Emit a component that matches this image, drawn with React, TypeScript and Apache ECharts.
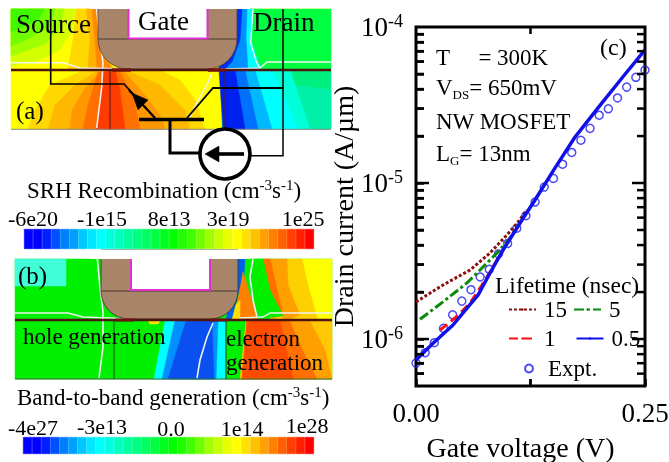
import React, { useEffect, useRef } from "react";
import * as echarts from "echarts";

const FONT = "'Liberation Serif', serif";

// --- chart (c) data ---
const gateVoltageExpt = [0, 0.01, 0.02, 0.03, 0.04, 0.05, 0.06, 0.07, 0.08, 0.09, 0.1, 0.11, 0.12, 0.13, 0.14, 0.15, 0.16, 0.17, 0.18, 0.19, 0.2, 0.21, 0.22, 0.23, 0.24, 0.25];
const currentExpt = [7.01e-7, 8.17e-7, 9.47e-7, 1.17e-6, 1.43e-6, 1.75e-6, 2.07e-6, 2.5e-6, 2.8e-6, 3.51e-6, 4.1e-6, 5.13e-6, 6.17e-6, 7.55e-6, 9.42e-6, 1.07e-5, 1.32e-5, 1.57e-5, 1.88e-5, 2.24e-5, 2.72e-5, 2.99e-5, 3.51e-5, 4.12e-5, 4.76e-5, 5.3e-5];
const gateV05 = [0, 0.0186, 0.0404, 0.0557, 0.0677, 0.0808, 0.095, 0.1157, 0.1299, 0.1518, 0.1736, 0.1987, 0.2249, 0.25];
const current05 = [7.33e-7, 9.4e-7, 1.23e-6, 1.58e-6, 1.91e-6, 2.65e-6, 3.72e-6, 5.79e-6, 7.78e-6, 1.25e-5, 1.97e-5, 3.03e-5, 4.71e-5, 7.13e-5];
const gateV15 = [0, 0.0295, 0.059, 0.0808, 0.0993, 0.1114, 0.1212];
const current15 = [1.73e-6, 2.22e-6, 2.77e-6, 3.56e-6, 4.65e-6, 5.62e-6, 6.71e-6];
const gateV5 = [0.0044, 0.0295, 0.0557, 0.0699, 0.0884, 0.1026, 0.1114];
const current5 = [1.34e-6, 1.73e-6, 2.29e-6, 2.77e-6, 3.56e-6, 4.44e-6, 5.38e-6];
const gateV1 = [0.0262, 0.0448, 0.059, 0.0721, 0.0808, 0.095];
const current1 = [1.14e-6, 1.4e-6, 1.7e-6, 2.22e-6, 2.69e-6, 3.72e-6];
const yMajor = [1e-6, 1e-5];
const yLabelValues = [1e-6, 1e-5, 1e-4];
const yMinor = [6e-7, 7e-7, 8e-7, 9e-7, 2e-6, 3e-6, 4e-6, 5e-6, 6e-6, 7e-6, 8e-6, 9e-6, 2e-5, 3e-5, 4e-5, 5e-5, 6e-5, 7e-5, 8e-5, 9e-5];
const xMidTick = [0.125];
const xLabelValues = [0, 0.25];

// --- colour bars ---
const colourBar = ["#0000ff", "#0000ff", "#0020ff", "#0050ff", "#0080ff", "#00a0ff", "#00c8ff", "#00e8ff", "#00ffff", "#00ffe0", "#00ffc0", "#00ffa0", "#00ff80", "#00ff60", "#00ff40", "#00ff20", "#00ff00", "#20ff00", "#40ff00", "#70ff00", "#a0ff00", "#c8ff00", "#e8ff00", "#ffff00", "#ffe000", "#ffc000", "#ffa000", "#ff8000", "#ff6000", "#ff4000", "#ff2000", "#ff0000"];
const srhLabels = ["-6e20", "-1e15", "8e13", "3e19", "1e25"];
const btbLabels = ["-4e27", "-3e13", "0.0", "1e14", "1e28"];

type Pts = number[][];
const poly = (points: Pts, fill: string) => ({ type: "polygon", silent: true, shape: { points }, style: { fill, stroke: fill, lineWidth: 0.5 } });
const pline = (points: Pts, stroke: string, lineWidth: number) => ({ type: "polyline", silent: true, shape: { points }, style: { stroke, lineWidth, fill: "none" } });
const txt = (text: string, x: number, y: number, fontSize: number, align = "left", rich?: any) => ({
  type: "text", silent: true, x, y,
  style: { text, x: 0, y: 0, fill: "#000", fontFamily: FONT, fontSize, align, verticalAlign: "middle", rich },
});
const supRich = (fs: number, small: number) => ({
  sup: { fontFamily: FONT, fontSize: small, fill: "#000", padding: [0, 0, fs * 0.45, 0] },
  sub: { fontFamily: FONT, fontSize: small, fill: "#000", padding: [fs * 0.5, 0, 0, 0] },
});

const regionsA: [string, Pts][] = [
  ["#ffff00", [[11, 9], [331, 9], [331, 129], [11, 129]]],
  ["#d4ff00", [[11, 9], [75, 9], [72, 30], [60, 50], [40, 60], [11, 66]]],
  ["#a0ff00", [[11, 9], [64, 9], [60, 28], [45, 44], [11, 56]]],
  ["#70ff00", [[11, 9], [55, 9], [50, 26], [30, 38], [11, 46]]],
  ["#40f800", [[11, 9], [45, 9], [38, 20], [11, 32]]],
  ["#ffd800", [[76, 9], [100, 9], [100, 69], [68, 69], [73, 40]]],
  ["#ffb000", [[86, 9], [100, 9], [100, 50], [114, 69], [88, 69], [90, 40]]],
  ["#ff8800", [[92, 9], [100, 9], [100, 50], [112, 69], [97, 69], [95, 40]]],
  ["#ffd800", [[28, 129], [35, 110], [50, 85], [80, 72], [110, 70], [160, 70], [180, 80], [195, 100], [205, 129]]],
  ["#ffb800", [[48, 129], [55, 105], [75, 85], [95, 72], [130, 72], [160, 85], [185, 110], [190, 129]]],
  ["#ff9800", [[70, 129], [72, 110], [85, 88], [100, 72], [125, 72], [145, 95], [160, 115], [165, 129]]],
  ["#ff7000", [[83, 129], [88, 105], [98, 72], [120, 72], [133, 95], [140, 129]]],
  ["#ff3c00", [[97, 129], [100, 95], [103, 72], [115, 70], [120, 90], [125, 129]]],
  ["#00ff40", [[238, 9], [331, 9], [331, 70], [238, 70]]],
  ["#00ffff", [[244, 9], [253, 9], [251, 40], [258, 62], [262, 70], [225, 70]]],
  ["#0090ff", [[237, 9], [247, 9], [246, 38], [248, 70], [220, 70], [235, 55]]],
  ["#0030f0", [[237, 9], [242, 9], [240, 40], [232, 62], [224, 70], [218, 70]]],
  ["#00f080", [[222, 70], [331, 70], [331, 129], [222, 129]]],
  ["#00f0a8", [[255, 80], [331, 90], [331, 129], [285, 129]]],
  ["#00ffd8", [[255, 70], [290, 70], [310, 129], [272, 129]]],
  ["#00ffff", [[245, 70], [272, 70], [298, 129], [258, 129]]],
  ["#00b8ff", [[235, 70], [255, 70], [272, 129], [248, 129]]],
  ["#0070ff", [[225, 70], [245, 70], [258, 129], [237, 129]]],
  ["#0020f0", [[219, 70], [235, 70], [245, 129], [223, 129]]],
];

const regionsB: [string, Pts][] = [
  ["#00f000", [[15, 259], [332, 259], [332, 379], [15, 379]]],
  ["#40ffd8", [[15, 259], [66, 259], [66, 286], [15, 286]]],
  ["#ffe000", [[148, 321], [160, 321], [158, 324], [150, 324]]],
  ["#00ffff", [[165, 321], [228, 321], [226, 379], [154, 379]]],
  ["#0090ff", [[175, 321], [218, 321], [216, 379], [162, 379]]],
  ["#0a50f0", [[186, 321], [212, 321], [214, 379], [168, 379]]],
  ["#ffff00", [[332, 259], [332, 321], [300, 321], [305, 290], [300, 259]]],
  ["#ffd000", [[285, 259], [302, 259], [308, 285], [318, 321], [270, 321], [275, 290]]],
  ["#ffa000", [[263, 259], [287, 259], [288, 285], [300, 315], [285, 321], [265, 290]]],
  ["#ff7000", [[263, 259], [270, 259], [275, 280], [283, 315], [272, 318], [262, 290]]],
  ["#00f000", [[245, 259], [263, 259], [270, 290], [283, 316], [262, 318], [252, 290]]],
  ["#0060f0", [[238, 259], [245, 259], [244, 275], [238, 295], [234, 310], [232, 320], [226, 320]]],
  ["#ff8000", [[243, 272], [250, 295], [258, 320], [232, 320], [238, 300]]],
  ["#ffe000", [[232, 320], [240, 320], [240, 300], [236, 305]]],
  ["#00f000", [[226, 321], [248, 321], [243, 379], [226, 379]]],
  ["#ffc800", [[246, 321], [332, 321], [332, 379], [240, 379]]],
  ["#ffa000", [[247, 321], [310, 321], [325, 350], [332, 379], [242, 379]]],
  ["#ff7000", [[247, 321], [290, 321], [300, 345], [317, 379], [242, 379]]],
  ["#ff4c00", [[247, 321], [280, 321], [293, 379], [242, 379]]],
];

const blackLinesA: [Pts, number][] = [
  [[[110, 70], [110, 129]], 1],
  [[[224, 70], [224, 129]], 1],
];

function panelGraphics() {
  const g: any[] = [];
  // panel (a)
  regionsA.forEach(([c, p]) => g.push(poly(p, c)));
  g.push(pline([[96.7, 9], [99, 33], [103, 63], [101.7, 87], [96.7, 128]], "#f4f4f4", 1.6));
  g.push(pline([[11, 62.7], [63, 62.7], [80, 68], [130, 69]], "#f4f4f4", 1.4));
  g.push(pline([[211.7, 74], [206.7, 85], [196.7, 103], [190, 117]], "#f4f4f4", 1.4));
  g.push(pline([[253, 9], [250.7, 43], [256.7, 63], [260, 68]], "#f4f4f4", 1.4));
  g.push(pline([[331, 62], [267, 62], [260, 68], [220, 69]], "#f4f4f4", 1.4));
  g.push({ type: "rect", silent: true, shape: { x: 98, y: 4, width: 139, height: 65, r: [0, 0, 30, 30] }, style: { fill: "#a88468", stroke: "#54402f", lineWidth: 0.8 } });
  g.push({ type: "rect", silent: true, shape: { x: 90, y: 0, width: 160, height: 9 }, style: { fill: "#fff" } });
  g.push(pline([[98, 39], [237, 39]], "#4a3a2e", 1));
  g.push({ type: "rect", silent: true, shape: { x: 129, y: 9, width: 78, height: 29 }, style: { fill: "#fff" } });
  g.push(pline([[128.5, 9], [128.5, 38.5], [207.5, 38.5], [207.5, 9]], "#e030d0", 2));
  g.push(pline([[11, 70], [331, 70]], "#4e1410", 2.4));
  g.push(pline([[112, 70], [131, 70]], "#701010", 3.4));
  g.push(pline([[208, 70], [226, 70]], "#701010", 3.4));
  g.push(pline([[11, 129.3], [331, 129.3]], "#888", 1));
  blackLinesA.forEach(([p, w]) => g.push(pline(p, "#4a1a10", w)));
  // circuit
  g.push(pline([[50.7, 9], [50.7, 84], [124, 84], [155, 118]], "#000", 1.6));
  g.push(pline([[129, 90], [155, 118]], "#000", 2.2));
  g.push(poly([[132, 93], [148, 100], [138, 110]], "#000"));
  g.push(pline([[139, 119.5], [204, 119.5]], "#000", 3.6));
  g.push(pline([[187, 118], [213, 88], [283, 88]], "#000", 1.8));
  g.push(pline([[283, 9], [283, 155.7], [250, 155.7]], "#000", 1.5));
  g.push(pline([[170, 120], [170, 153], [199, 153]], "#000", 3));
  g.push({ type: "circle", silent: true, shape: { cx: 225, cy: 154, r: 25 }, style: { fill: "#fff", stroke: "#000", lineWidth: 3.6 } });
  g.push(pline([[244, 154], [215, 154]], "#000", 3.6));
  g.push(poly([[205, 154], [219, 146], [219, 162]], "#000"));
  // panel (b)
  regionsB.forEach(([c, p]) => g.push(poly(p, c)));
  g.push(pline([[97.3, 259], [100, 287], [103, 312], [103, 347], [99, 378]], "#f0f0f0", 1.6));
  g.push(pline([[15, 313], [68, 313], [83, 317], [133, 319]], "#f0f0f0", 1.4));
  g.push(pline([[213, 323], [207, 337], [200, 360], [197, 378]], "#f0f0f0", 1.6));
  g.push(pline([[253, 259], [250, 277], [253, 300], [257, 317]], "#f0f0f0", 1.6));
  g.push(pline([[332, 313], [270, 313], [263, 317], [240, 318]], "#f0f0f0", 1.4));
  g.push({ type: "rect", silent: true, shape: { x: 101, y: 250, width: 137, height: 69, r: [0, 0, 28, 28] }, style: { fill: "#a88468", stroke: "#3c3028", lineWidth: 0.8 } });
  g.push({ type: "rect", silent: true, shape: { x: 90, y: 250, width: 160, height: 9 }, style: { fill: "#fff" } });
  g.push(pline([[101, 291], [238, 291]], "#4a3a2e", 1));
  g.push({ type: "rect", silent: true, shape: { x: 131, y: 259, width: 78, height: 30 }, style: { fill: "#fff" } });
  g.push(pline([[131, 259], [131, 290], [210, 290], [210, 259]], "#e030d0", 2));
  g.push(pline([[15, 320], [332, 320]], "#4e1410", 2.4));
  g.push(pline([[115, 320], [134, 320]], "#701010", 3));
  g.push(pline([[210, 320], [228, 320]], "#701010", 3));
  g.push(pline([[15, 379], [332, 379]], "#3a6a3a", 1));
  g.push(pline([[114, 321], [114, 379]], "#0a4a14", 1));
  g.push(pline([[226, 321], [226, 379]], "#0a4a14", 1));
  // texts
  g.push(txt("Source", 16, 24, 27), txt("Gate", 138, 21, 27), txt("Drain", 253, 22, 27), txt("(a)", 16, 110, 25));
  g.push(txt("SRH Recombination (cm{sup|-3}s{sup|-1})", 27, 190, 23, "left", supRich(23, 15)));
  [33, 102, 169, 228, 303].forEach((x, i) => g.push(txt(srhLabels[i], x, 218, 22, "center")));
  g.push(txt("(b)", 18, 275, 25), txt("hole generation", 23, 336, 23), txt("electron", 226, 338, 23), txt("generation", 226, 362, 23));
  g.push(txt("Band-to-band generation (cm{sup|-3}s{sup|-1})", 17, 397, 23, "left", supRich(23, 15)));
  [33, 102, 171, 242, 307].forEach((x, i) => g.push(txt(btbLabels[i], x, [427, 426, 428, 428, 425][i], 22, "center")));
  // chart annotations
  g.push(txt("T     = 300K", 436, 57, 23));
  g.push(txt("V{sub|DS}= 650mV", 436, 87, 23, "left", { sub: { fontFamily: FONT, fontSize: 13, fill: "#000", padding: [14, 0, 0, 0] } }));
  g.push(txt("NW MOSFET", 436, 121, 23));
  g.push(txt("L{sub|G}= 13nm", 436, 153, 23, "left", { sub: { fontFamily: FONT, fontSize: 13, fill: "#000", padding: [14, 0, 0, 0] } }));
  g.push(txt("(c)", 600, 47, 24));
  g.push(txt("Lifetime (nsec)", 495, 285, 23.5));
  return g;
}

const zip = (xs: number[], ys: number[]) => xs.map((x, i) => [x, ys[i]]);
const barData = () => colourBar.map((color) => ({ value: 1, itemStyle: { color, borderColor: color, borderWidth: 0.6 } }));
const hiddenCat = (gridIndex: number, cats: number[]) => ({
  type: "category", gridIndex, data: cats, show: false, boundaryGap: true, splitLine: { show: false },
});
const hiddenVal = (gridIndex: number) => ({ type: "value", gridIndex, min: 0, max: 1, show: false, splitLine: { show: false } });

const legendText = { fontFamily: FONT, fontSize: 23, color: "#000", padding: [0, 0, 0, 3] };

const tickLine = (x1: number, y1: number, x2: number, y2: number) => ({
  type: "line", shape: { x1, y1, x2, y2 }, style: { stroke: "#000", lineWidth: 2.5 }, silent: true,
});
const yTickItem = (_: any, api: any) => {
  const v = api.value(1);
  const len = api.value(2);
  const l = api.coord([0, v]);
  const r = api.coord([0.25, v]);
  return { type: "group", children: [tickLine(l[0], l[1], l[0] + len, l[1]), tickLine(r[0], r[1], r[0] - len, r[1])] };
};
const xTickItem = (_: any, api: any) => {
  const v = api.value(0);
  const b = api.coord([v, 5e-7]);
  const t = api.coord([v, 1e-4]);
  return { type: "group", children: [tickLine(b[0], b[1], b[0], b[1] - 7), tickLine(t[0], t[1], t[0], t[1] + 7)] };
};

export default function App() {
  const ref = useRef<HTMLDivElement>(null);
  useEffect(() => {
    const chart = echarts.init(ref.current!, undefined, { renderer: "svg" });
    const idx = colourBar.map((_, i) => i);
    chart.setOption({
      animation: false,
      grid: [
        { left: 416, top: 27, width: 229, height: 359, show: true, borderColor: "#000", borderWidth: 3, outerBoundsMode: "none", containLabel: false },
        { left: 24, top: 229, width: 290, height: 20, outerBoundsMode: "none" },
        { left: 23, top: 437, width: 291, height: 17, outerBoundsMode: "none" },
      ],
      xAxis: [
        {
          type: "value", gridIndex: 0, min: 0, max: 0.25, interval: 0.125,
          name: "Gate voltage (V)", nameLocation: "middle", nameGap: 47,
          nameTextStyle: { fontFamily: FONT, fontSize: 28, color: "#000", padding: [0, 20, 0, 0] },
          axisLine: { show: false },
          axisTick: { show: true, inside: true, length: 7, lineStyle: { color: "#000", width: 2.5 } },
          axisLabel: { show: true, customValues: xLabelValues, margin: 13, fontFamily: FONT, fontSize: 27, color: "#000", formatter: (v: number) => v.toFixed(2) },
          splitLine: { show: false },
        },
        hiddenCat(1, idx),
        hiddenCat(2, idx),
      ],
      yAxis: [
        {
          type: "log", logBase: 10, min: 5e-7, max: 1e-4, gridIndex: 0,
          name: "Drain current (A/µm)", nameLocation: "middle", nameGap: 41,
          nameTextStyle: { fontFamily: FONT, fontSize: 28, color: "#000" },
          axisLine: { show: false },
          axisTick: { show: true, inside: true, length: 8, customValues: [...yMajor, ...yMinor], lineStyle: { color: "#000", width: 2.5 } },
          splitLine: { show: false }, minorTick: { show: false }, minorSplitLine: { show: false },
          axisLabel: {
            show: true, customValues: yLabelValues, margin: 13, fontFamily: FONT, fontSize: 27, color: "#000",
            formatter: (v: number) => `10{s|${Math.round(Math.log10(v))}}`,
            rich: { s: { fontFamily: FONT, fontSize: 18, color: "#000", padding: [0, 0, 13, 0] } },
          },
        },
        hiddenVal(1),
        hiddenVal(2),
      ],
      legend: [
        { data: ["15", "5"], left: 508, top: 298, itemWidth: 27, itemHeight: 3, itemGap: 6, textStyle: legendText, padding: 0, selectedMode: false },
        { data: ["1", "0.5"], left: 508, top: 327, itemWidth: 27, itemHeight: 3, itemGap: 20, textStyle: legendText, padding: 0, selectedMode: false },
        { data: ["Expt."], left: 524, top: 357, itemWidth: 8, itemHeight: 8, textStyle: { ...legendText, padding: [0, 0, 0, 10] }, padding: 0, selectedMode: false },
      ],
      graphic: panelGraphics(),
      series: [
        { name: "15", type: "line", symbol: "none", data: zip(gateV15, current15), lineStyle: { color: "#8b1010", width: 3, type: [3, 2] }, itemStyle: { color: "#8b1010" } },
        { name: "5", type: "line", symbol: "none", data: zip(gateV5, current5), lineStyle: { color: "#0a8a0a", width: 3, type: [10, 3, 3, 3] }, itemStyle: { color: "#0a8a0a" } },
        { name: "1", type: "line", symbol: "none", data: zip(gateV1, current1), lineStyle: { color: "#ff1010", width: 3, type: [9, 5] }, itemStyle: { color: "#ff1010" } },
        { name: "0.5", type: "line", symbol: "none", data: zip(gateV05, current05), lineStyle: { color: "#1010e8", width: 3.5 }, itemStyle: { color: "#1010e8" } },
        { name: "Expt.", type: "scatter", symbol: "circle", symbolSize: 8, data: zip(gateVoltageExpt, currentExpt), itemStyle: { color: "rgba(255,255,255,0)", borderColor: "#2020f0", borderWidth: 1.5 } },
        { type: "bar", xAxisIndex: 1, yAxisIndex: 1, barWidth: "100%", barCategoryGap: 0, data: barData() },
        { type: "bar", xAxisIndex: 2, yAxisIndex: 2, barWidth: "100%", barCategoryGap: 0, data: barData() },
        {
          type: "custom", name: "yTicks", clip: false, silent: true, z: 5, renderItem: yTickItem, encode: { x: 0, y: 1 },
          data: [...yMajor.map((v) => [0, v, 13]), ...yMinor.map((v) => [0, v, 8])],
        },
        {
          type: "custom", name: "xTicks", clip: false, silent: true, z: 5, renderItem: xTickItem, encode: { x: 0, y: 1 },
          data: xMidTick.map((v) => [v, 1e-6]),
        },
      ],
    });
    return () => chart.dispose();
  }, []);
  return <div ref={ref} style={{ position: "fixed", left: 0, top: 0, width: 669, height: 462 }} />;
}
